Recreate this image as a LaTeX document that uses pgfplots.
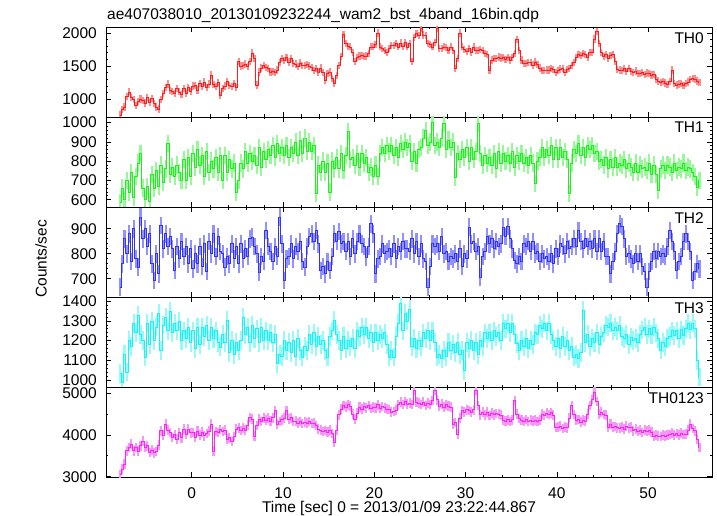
\documentclass[border=0pt]{standalone}
\usepackage{fontspec}
\setmainfont{Liberation Sans}
\usepackage{pgfplots}
\usepackage{pgfplotstable}
\pgfplotsset{compat=1.18}
\definecolor{cA}{RGB}{255,30,30}\definecolor{eA}{RGB}{255,140,140}
\definecolor{cB}{RGB}{30,240,30}\definecolor{eB}{RGB}{150,248,150}
\definecolor{cC}{RGB}{50,50,255}\definecolor{eC}{RGB}{145,145,255}
\definecolor{cD}{RGB}{20,245,245}\definecolor{eD}{RGB}{150,250,250}
\definecolor{cE}{RGB}{245,40,245}\definecolor{eE}{RGB}{250,150,250}
\newcommand{\fs}{\fontsize{15.5pt}{18pt}\selectfont}
\pgfplotstableread{
t a b c d e
-7.875 760 585 667 1032 3049
-7.625 840 660 760 990 3180
-7.375 880 600 860 1130 3300
-7.125 1040 700 800 1040 3620
-6.875 1110 640 880 1200 3694
-6.625 1020 740 770 1170 3780
-6.375 990 610 900 1290 3620
-6.125 900 720 780 1240 3700
-5.875 960 790 747 1330 3610
-5.625 1000 840 947 1230 3740
-5.375 980 660 860 1200 3855
-5.125 940 600 900 1117 3700
-4.875 1020 670 830 1290 3740
-4.625 950 590 880 1180 3580
-4.375 1010 730 760 1300 3640
-4.125 930 660 693 1200 3573
-3.875 880 750 800 1270 3600
-3.625 850 670 720 1340 3760
-3.375 990 780 913 1150 4097
-3.125 1080 690 820 1280 4000
-2.875 1180 760 880 1320 4258
-2.625 1230 890 830 1250 4120
-2.375 1130 730 870 1350 4060
-2.125 1120 770 820 1240 3940
-1.875 1090 720 733 1290 4010
-1.625 1160 780 830 1250 3900
-1.375 1110 740 780 1300 4060
-1.125 1070 700 850 1200 3930
-0.875 1160 810 790 1250 4140
-0.625 1090 700 830 1210 4010
-0.375 1180 820 760 1270 4140
-0.125 1120 720 820 1190 4050
0.125 1200 840 740 1250 4060
0.375 1210 770 800 1160 3950
0.625 1140 860 760 1270 4090
0.875 1240 780 830 1180 3990
1.125 1190 830 750 1270 4070
1.375 1260 720 840 1220 3980
1.625 1180 850 730 1280 4030
1.875 1230 740 850 1200 4090
2.125 1365 800 800 1270 4258
2.375 1220 760 880 1210 3614
2.625 1190 820 790 1250 4080
2.875 1250 740 870 1190 4060
3.125 1060 830 810 1168 4130
3.375 1160 700 800 1230 4080
3.625 1200 830 747 1190 4110
3.875 1270 740 790 1303 3896
4.125 1210 810 760 1140 3930
4.375 1190 760 840 1200 3840
4.625 1240 790 780 1130 3960
4.875 1180 640 830 1190 4137
5.125 1570 700 760 1150 4170
5.375 1500 790 840 1200 4100
5.625 1510 760 780 1320 4160
5.875 1530 850 820 1230 4120
6.125 1490 790 790 1270 4230
6.375 1570 840 860 1190 4420
6.625 1695 800 867 1280 4380
6.875 1610 830 830 1210 3976
7.125 1213 780 800 1260 4220
7.375 1410 870 727 1190 4379
7.625 1470 770 790 1270 4320
7.875 1510 850 770 1200 4410
8.125 1480 810 893 1250 4350
8.375 1460 860 830 1200 4400
8.625 1410 830 810 1240 4330
8.875 1420 880 770 1190 4410
9.125 1405 820 830 1230 4581
9.375 1440 890 790 1083 4258
9.625 1550 840 947 1130 4320
9.875 1610 870 840 1120 4360
10.125 1580 830 693 1200 4400
10.375 1625 880 780 1150 4581
10.625 1560 820 790 1190 4380
10.875 1610 870 840 1140 4410
11.125 1540 840 780 1200 4320
11.375 1530 900 830 1120 4330
11.625 1490 830 810 1210 4280
11.875 1545 910 850 1150 4320
12.125 1510 840 770 1117 4270
12.375 1505 920 747 1170 4310
12.625 1525 850 830 1150 4280
12.875 1500 900 870 1230 4320
13.125 1480 850 880 1180 4270
13.375 1430 880 850 1240 4280
13.625 1465 631 893 1170 4220
13.875 1410 780 840 1220 4140
14.125 1470 740 733 1180 4120
14.375 1400 800 750 1200 4080
14.625 1290 740 720 1150 4100
14.875 1390 790 770 1117 4070
15.125 1410 640 733 1220 4120
15.375 1310 800 790 1250 4030
15.625 1239 760 880 1303 3815
15.875 1360 820 850 1230 4120
16.125 1510 760 890 1200 4480
16.375 1640 840 840 1150 4620
16.625 1975 750 850 1220 4702
16.875 1840 830 810 1160 4660
17.125 1800 952 850 1200 4720
17.375 1790 810 790 1170 4690
17.625 1710 820 860 1210 4500
17.875 1569 780 800 1160 4379
18.125 1630 840 850 1250 4520
18.375 1650 770 880 1220 4661
18.625 1655 840 840 1270 4620
18.875 1640 790 830 1230 4680
19.125 1650 820 787 1270 4650
19.375 1690 740 830 1210 4700
19.625 1790 770 920 1240 4630
19.875 1790 720 880 1190 4670
20.125 1830 780 720 1240 4650
20.375 2000 720 780 1200 4720
20.625 1790 840 790 1230 4630
20.875 1760 870 840 1210 4680
21.125 1740 840 800 1240 4650
21.375 1710 880 810 1180 4620
21.625 1760 850 820 1117 4610
21.875 1810 880 790 1150 4540
22.125 1815 830 840 1117 4560
22.375 1840 870 780 1220 4590
22.625 1790 820 830 1290 4720
22.875 1850 890 810 1388 4782
23.125 1800 860 850 1250 4730
23.375 1860 900 820 1337 4800
23.625 1790 870 820 1300 4740
23.875 1840 890 810 1360 4760
24.125 1569 800 860 1170 4730
24.375 1930 850 800 1210 5064
24.625 1990 790 850 1160 4780
24.875 1960 860 790 1200 4760
25.125 2076 870 840 1170 4730
25.375 1970 920 780 1240 4780
25.625 1960 960 770 1210 4700
25.875 1840 880 667 1250 4760
26.125 1830 900 750 1200 4730
26.375 1790 1000 840 1250 4820
26.625 1860 880 830 1190 5064
26.875 2076 900 840 1117 4840
27.125 1770 870 810 1130 4690
27.375 1770 920 870 1110 4740
27.625 1790 995 800 1150 4660
27.875 1780 860 810 1120 4720
28.125 1740 910 770 1190 4690
28.375 1790 870 790 1150 4670
28.625 1730 900 780 1180 4258
28.875 1467 718 800 1140 4300
29.125 1610 840 770 1190 4016
29.375 2000 810 820 1130 4400
29.625 1790 860 750 1150 4581
29.875 1750 820 800 1049 4550
30.125 1720 870 780 1190 4600
30.375 1770 800 907 1160 4580
30.625 1700 870 840 1200 4540
30.875 1790 810 850 1150 4600
31.125 1730 850 810 1190 5064
31.375 1730 995 830 1130 4700
31.625 1745 840 707 1200 4480
31.875 1740 780 790 1170 4540
32.125 1690 830 810 1240 4480
32.375 1670 790 870 1210 4540
32.625 1442 820 840 1240 4460
32.875 1590 780 860 1200 4520
33.125 1610 840 820 1250 4480
33.375 1610 760 850 1220 4510
33.625 1635 850 830 1240 4500
33.875 1620 790 840 1200 4470
34.125 1625 840 907 1290 4350
34.375 1600 800 870 1260 4330
34.625 1630 830 910 1290 4360
34.875 1590 790 860 1240 4320
35.125 1630 850 820 1290 4360
35.375 1690 770 773 1230 4823
35.625 1898 830 760 1185 4500
35.875 1740 800 790 1150 4390
36.125 1590 840 770 1200 4350
36.375 1540 790 840 1170 4320
36.625 1540 820 830 1210 4370
36.875 1550 780 850 1160 4320
37.125 1550 830 810 1200 4350
37.375 1515 790 850 1180 4330
37.625 1560 683 800 1240 4350
37.875 1520 800 810 1230 4320
38.125 1470 820 770 1280 4350
38.375 1430 870 800 1260 4500
38.625 1430 820 780 1290 4460
38.875 1440 860 790 1250 4520
39.125 1440 830 770 1290 4490
39.375 1460 880 800 1230 4530
39.625 1450 810 760 1200 4470
39.875 1400 870 820 1170 4178
40.125 1430 810 790 1210 4190
40.375 1455 870 840 1160 4210
40.625 1460 820 830 1220 4150
40.875 1400 850 800 1170 4190
41.125 1450 810 850 1200 4170
41.375 1465 631 820 1150 4400
41.625 1510 790 830 1170 4702
41.875 1550 860 860 1117 4490
42.125 1630 840 830 1130 4350
42.375 1670 890 893 1110 4370
42.625 1660 830 850 1140 4310
42.875 1690 870 820 1354 4350
43.125 1670 820 860 1190 4330
43.375 1630 880 830 1230 4500
43.625 1710 860 850 1170 4700
43.875 1710 880 820 1210 4850
44.125 1910 840 860 1190 5024
44.375 2025 850 810 1240 4800
44.625 1840 800 860 1180 4500
44.875 1700 810 810 1220 4540
45.125 1640 780 850 1240 4490
45.375 1670 820 790 1280 4470
45.625 1615 760 790 1269 4178
45.875 1655 810 720 1290 4260
46.125 1670 770 770 1250 4190
46.375 1570 820 810 1270 4200
46.625 1450 770 880 1250 4170
46.875 1442 790 920 1280 4160
47.125 1430 780 910 1220 4190
47.375 1460 810 860 1210 4140
47.625 1420 760 790 1230 4210
47.875 1460 790 800 1180 4170
48.125 1420 770 780 1215 4190
48.375 1400 740 760 1200 4097
48.625 1425 790 800 1210 4140
48.875 1385 740 770 1190 4080
49.125 1390 780 800 1230 4110
49.375 1400 760 750 1253 4060
49.625 1370 770 730 1270 4120
49.875 1395 750 667 1230 4090
50.125 1385 790 730 1260 4110
50.375 1365 730 770 1230 4070
50.625 1375 780 810 1270 3976
50.875 1305 730 780 1240 4000
51.125 1275 648 810 1210 3970
51.375 1255 760 790 1151 3960
51.625 1265 780 800 1190 4000
51.875 1245 750 790 1170 3970
52.125 1225 780 830 1210 3990
52.375 1270 770 893 1220 4010
52.625 1442 740 850 1250 4040
52.875 1235 790 810 1225 4000
53.125 1213 750 733 1250 4030
53.375 1230 770 770 1210 3990
53.625 1235 760 790 1255 4040
53.875 1205 790 850 1225 4010
54.125 1235 750 880 1260 4020
54.375 1260 770 850 1286 4110
54.625 1295 760 810 1255 4258
54.875 1315 740 693 1290 4150
55.125 1305 720 730 1260 4097
55.375 1275 666 760 1100 3900
55.625 1250 700 740 1015 3694
}\lc
\pgfplotsset{
  panel/.style={
    scale only axis, width=606pt, height=90pt,
    xmin=-9.4, xmax=57,
    xtick={0,10,20,30,40,50}, minor x tick num=4,
    xticklabels={},
    tick align=inside, major tick length=5pt, minor tick length=2.5pt,
    tick style={black, line width=0.7pt},
    axis line style={black, line width=0.9pt},
    tick label style={font=\fs},
    y tick label style={inner sep=0pt, xshift=-9pt},
    /pgf/number format/assume math mode=true,
    /pgf/number format/1000 sep={},
    anchor=north west,
  },
  ebar/.style n args={2}{draw=none, mark=none, forget plot,
    error bars/.cd, y dir=both, y fixed=#1, error mark=none,
    error bar style={line width=2.1pt, draw=#2, solid}},
  stepl/.style={const plot mark mid, mark=none, color=#1, line width=0.7pt},
}
\begin{document}
\begin{tikzpicture}[x=1pt,y=1pt]
\path[use as bounding box] (-106pt,27pt) rectangle (611pt,-489pt);
\node[anchor=base west, inner sep=0pt, font=\fs] at (1pt,7pt) {ae407038010\_20130109232244\_wam2\_bst\_4band\_16bin.qdp};
\node[rotate=90, anchor=center, inner sep=0pt, font=\fs] at (-65pt,-232pt) {Counts/sec};
\node[anchor=base, inner sep=0pt, font=\fs] at (293pt,-485pt) {Time [sec] 0 = 2013/01/09 23:22:44.867};

\begin{axis}[panel, at={(0pt,0pt)}, ymin=730, ymax=2090, ytick={1000,1500,2000}, minor y tick num=4]
\addplot[ebar={55}{eA}] table[x=t,y=a]{\lc};
\addplot[stepl=cA] table[x=t,y=a]{\lc};
\node[anchor=north east, inner sep=0pt, font=\fs, xshift=-8pt, yshift=-5pt] at (rel axis cs:1,1) {TH0};
\end{axis}

\begin{axis}[panel, at={(0pt,-90pt)}, ymin=562, ymax=1029, ytick={600,700,800,900,1000}, minor y tick num=4]
\addplot[ebar={45}{eB}] table[x=t,y=b]{\lc};
\addplot[stepl=cB] table[x=t,y=b]{\lc};
\node[anchor=north east, inner sep=0pt, font=\fs, xshift=-8pt, yshift=-5pt] at (rel axis cs:1,1) {TH1};
\end{axis}

\begin{axis}[panel, at={(0pt,-180pt)}, ymin=627, ymax=987, ytick={700,800,900}, minor y tick num=4]
\addplot[ebar={35}{eC}] table[x=t,y=c]{\lc};
\addplot[stepl=cC] table[x=t,y=c]{\lc};
\node[anchor=north east, inner sep=0pt, font=\fs, xshift=-8pt, yshift=-5pt] at (rel axis cs:1,1) {TH2};
\end{axis}

\begin{axis}[panel, at={(0pt,-270pt)}, ymin=964, ymax=1422, ytick={1000,1100,1200,1300,1400}, minor y tick num=4]
\addplot[ebar={47}{eD}] table[x=t,y=d]{\lc};
\addplot[stepl=cD] table[x=t,y=d]{\lc};
\node[anchor=north east, inner sep=0pt, font=\fs, xshift=-8pt, yshift=-5pt] at (rel axis cs:1,1) {TH3};
\end{axis}

\begin{axis}[panel, at={(0pt,-360pt)}, ymin=2992, ymax=5145, ytick={3000,4000,5000}, minor y tick num=1,
  xticklabels={0,10,20,30,40,50}, x tick label style={inner sep=0pt, yshift=-10pt}]
\addplot[ebar={115}{eE}] table[x=t,y=e]{\lc};
\addplot[stepl=cE] table[x=t,y=e]{\lc};
\node[anchor=north east, inner sep=0pt, font=\fs, xshift=-8pt, yshift=-5pt] at (rel axis cs:1,1) {TH0123};
\end{axis}
\end{tikzpicture}
\end{document}
